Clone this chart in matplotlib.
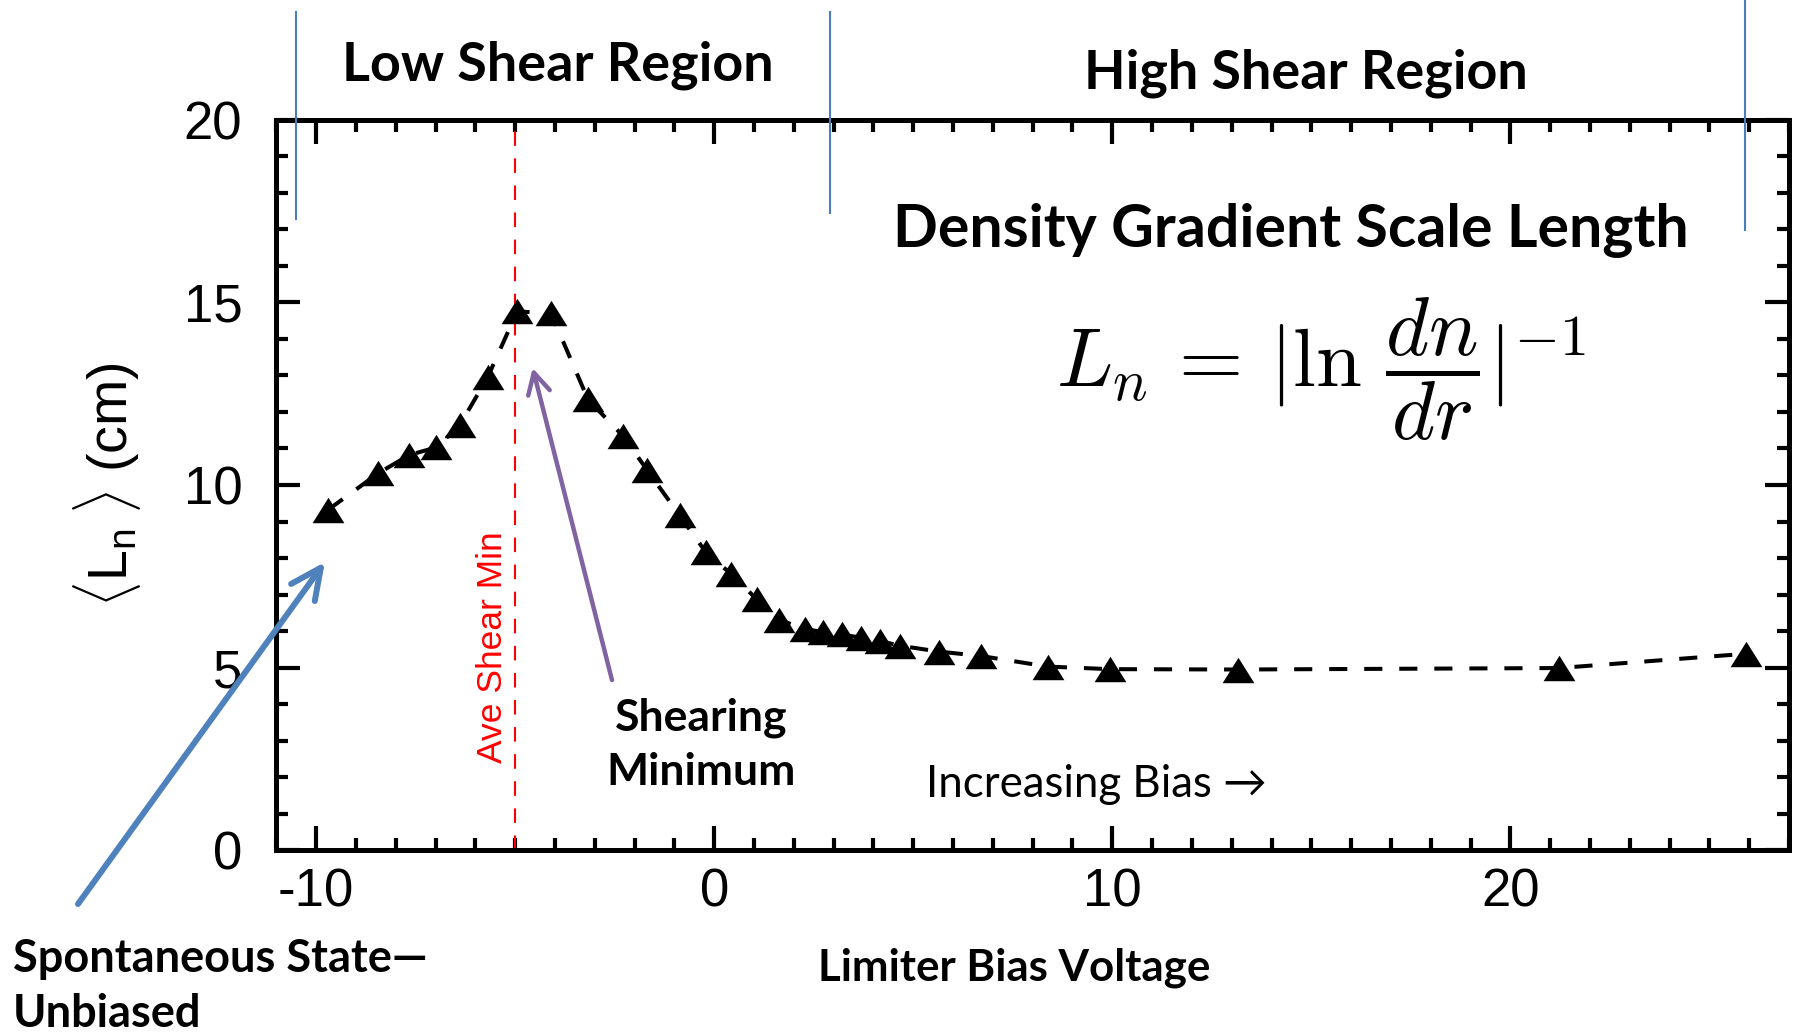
import matplotlib
matplotlib.use("Agg")
import matplotlib.pyplot as plt
import matplotlib.transforms as mtransforms
from matplotlib.ticker import MultipleLocator

plt.rcParams["axes.unicode_minus"] = False
plt.rcParams["mathtext.fontset"] = "custom"
plt.rcParams["mathtext.rm"] = "Liberation Sans"
plt.rcParams["mathtext.it"] = "Liberation Sans:italic"
plt.rcParams["mathtext.bf"] = "Liberation Sans:bold"

# Limiter bias voltage (V) and averaged density gradient scale length (cm)
bias = [-9.70, -8.44, -7.66, -6.98, -6.39, -5.69, -4.95, -4.10, -3.17, -2.28,
        -1.68, -0.87, -0.21, 0.43, 1.07, 1.64, 2.28, 2.74, 3.20, 3.69,
        4.16, 4.67, 5.65, 6.70, 8.38, 9.93, 13.16, 21.22, 25.91]
ln_cm = [9.32, 10.32, 10.82, 11.03, 11.64, 12.95, 14.75, 14.70, 12.34, 11.33,
         10.40, 9.17, 8.16, 7.56, 6.87, 6.31, 6.05, 5.98, 5.91, 5.82,
         5.73, 5.60, 5.44, 5.32, 5.03, 4.96, 4.95, 4.99, 5.38]

x_ticks = [-10, 0, 10, 20]
y_ticks = [0, 5, 10, 15, 20]
shear_min_bias = -5.0
region_edges = [-10.5, 2.9, 25.9]

W, H = 1806, 1033
fig = plt.figure(figsize=(W / 100, H / 100), dpi=100)
ax = fig.add_axes([0.1530, 0.1768, 0.9906 - 0.1530, 0.8842 - 0.1768])

tick_font = "Liberation Sans"
text_font = ["Lato", "DejaVu Sans"]

# flattened triangle marker
tri = [(0, 1), (-1.25, -1), (1.25, -1), (0, 1)]
ax.plot(bias, ln_cm, color="black", lw=2.9, linestyle=(0, (4.5, 4.2)),
        marker=tri, ms=22.9, mew=0, mfc="black", zorder=3, clip_on=False)

ax.set_xlim(-11, 27)
ax.set_ylim(0, 20)
ax.set_xticks(x_ticks)
ax.set_yticks(y_ticks)
ax.xaxis.set_minor_locator(MultipleLocator(1))
ax.yaxis.set_minor_locator(MultipleLocator(1))
ax.tick_params(which="both", direction="in", top=True, right=True,
               width=3, color="black")
ax.tick_params(which="major", length=17, labelsize=38)
ax.tick_params(which="minor", length=8.5)
ax.tick_params(axis="x", pad=12)
ax.tick_params(axis="y", pad=24.5)
for lab in ax.get_xticklabels() + ax.get_yticklabels():
    lab.set_fontfamily(tick_font)
for sp in ax.spines.values():
    sp.set_linewidth(3.6)

ax.set_ylabel(r"$\langle\mathregular{L}_\mathregular{n}\;\rangle$ (cm)",
              fontsize=40, family=tick_font, math_fontfamily="custom",
              va="center")
ax.yaxis.set_label_coords(-0.112, 0.5)

# average shear minimum marker
ax.axvline(shear_min_bias, color="red", lw=1.5, linestyle=(0, (7, 6)), zorder=2)
ax.text(-5.56, 5.55, "Ave Shear Min", rotation=90, color="red", fontsize=25.5,
        family=tick_font, ha="center", va="center")

# region boundaries above the frame
blend = mtransforms.blended_transform_factory(ax.transData, fig.transFigure)
for xe, y0, y1 in zip(region_edges, [1 - 219 / H, 1 - 213 / H, 1 - 230 / H],
                      [1 - 12 / H, 1 - 12 / H, 1 - 1 / H]):
    ln = plt.Line2D([xe, xe], [y0, y1], transform=blend, color="#4A7EBB",
                    lw=1.5, clip_on=False)
    fig.add_artist(ln)

fig.text(558 / W, 1 - 81 / H, "Low Shear Region", fontsize=38.8,
         fontweight="bold", family=text_font, ha="center", va="baseline")
fig.text(1305.5 / W, 1 - 88 / H, "High Shear Region", fontsize=38.8,
         fontweight="bold", family=text_font, ha="center", va="baseline")
fig.text(1291 / W, 1 - 247 / H, "Density Gradient Scale Length", fontsize=42.5,
         fontweight="bold", family=text_font, ha="center", va="baseline")
fig.text(1056 / W, 1 - 387 / H, r"$L_n \,=\, |\ln\, \dfrac{dn}{dr}|^{-1}$",
         fontsize=59.5, math_fontfamily="cm", ha="left", va="baseline")

fig.text(701 / W, 1 - 730 / H, "Shearing", fontsize=32, fontweight="bold",
         family=text_font, ha="center", va="baseline")
fig.text(701 / W, 1 - 785 / H, "Minimum", fontsize=32, fontweight="bold",
         family=text_font, ha="center", va="baseline")
fig.text(926 / W, 1 - 797 / H, "Increasing Bias \u2192", fontsize=31.5,
         family=text_font, ha="left", va="baseline")
fig.text(13 / W, 1 - 972 / H, "Spontaneous State\u2014", fontsize=32.5,
         fontweight="bold", family=text_font, ha="left", va="baseline")
fig.text(13 / W, 1 - 1027 / H, "Unbiased", fontsize=32.5, fontweight="bold",
         family=text_font, ha="left", va="baseline")
fig.text(1014 / W, 1 - 980 / H, "Limiter Bias Voltage", fontsize=31.6,
         fontweight="bold", family=text_font, ha="center", va="baseline")

# annotation arrows
ax.annotate("", xy=(-9.78, 7.89), xycoords="data",
            xytext=(78 / W, 1 - 904 / H), textcoords="figure fraction",
            arrowprops=dict(arrowstyle="->,head_length=22,head_width=10.5",
                            mutation_scale=1, color="#4F81BD", lw=4.3,
                            shrinkA=0, shrinkB=0),
            annotation_clip=False)
ax.annotate("", xy=(-4.56, 13.2), xycoords="data",
            xytext=(612 / W, 1 - 680 / H), textcoords="figure fraction",
            arrowprops=dict(arrowstyle="->,head_length=15,head_width=8",
                            mutation_scale=1, color="#8064A2", lw=3.2,
                            shrinkA=0, shrinkB=0),
            annotation_clip=False)

fig.savefig("out.png", dpi=100)
